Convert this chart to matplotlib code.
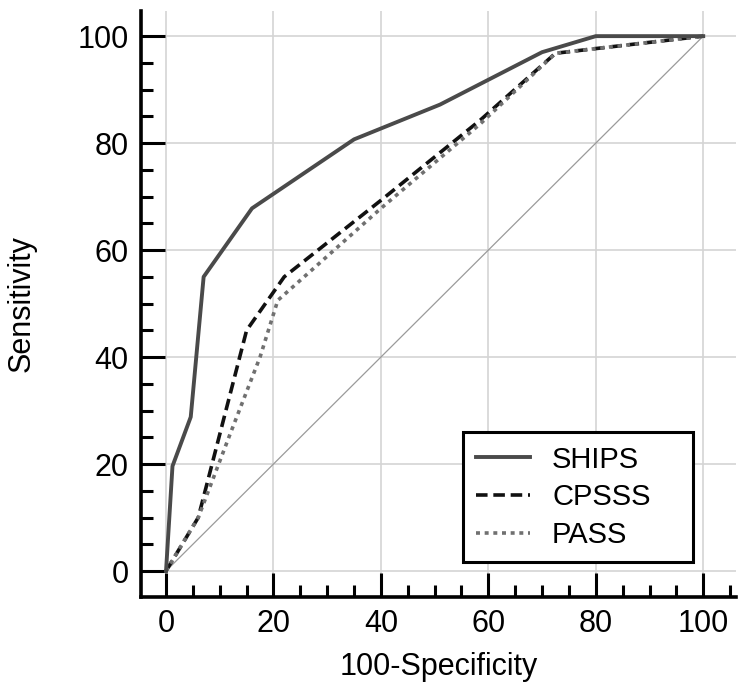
import matplotlib
matplotlib.use("Agg")
from matplotlib import pyplot as plt
from matplotlib.ticker import MultipleLocator

# ROC curves (x = 100-Specificity, y = Sensitivity)
ships_x = [0, 1.2, 4.6, 7, 16, 35, 51, 70, 80, 100]
ships_y = [0, 19.6, 28.8, 55, 67.8, 80.7, 87.2, 97, 100, 100]

cpsss_x = [0, 6, 15, 22, 40, 58.5, 72.5, 100]
cpsss_y = [0, 10, 45, 55, 69.3, 84.3, 96.8, 100]

pass_x = [0, 6, 12, 17.5, 20.8, 40, 58.5, 72.5, 100]
pass_y = [0, 10, 25.8, 40, 50.6, 67.8, 83.6, 96.8, 100]

ticks = [0, 20, 40, 60, 80, 100]

plt.rcParams["font.family"] = ["Liberation Sans", "DejaVu Sans"]

fig = plt.figure(figsize=(7.39, 6.86), dpi=100)
ax = fig.add_axes([141 / 739, 89 / 686, 595 / 739, 586 / 686])

ax.set_xlim(-4.66, 106.1)
ax.set_ylim(-4.86, 104.7)
ax.set_xticks(ticks)
ax.set_yticks(ticks)
ax.xaxis.set_minor_locator(MultipleLocator(5))
ax.yaxis.set_minor_locator(MultipleLocator(5))
ax.grid(True, which="major", color="#d4d4d4", lw=1.2)
ax.set_axisbelow(True)

for side in ("top", "right"):
    ax.spines[side].set_visible(False)
for side in ("left", "bottom"):
    ax.spines[side].set_linewidth(2.6)

ax.tick_params(which="major", direction="in", length=17, width=2.2,
               labelsize=22, pad=9)
ax.tick_params(which="minor", direction="in", length=8.5, width=2.2)

ax.plot([0, 100], [0, 100], color="#9a9a9a", lw=0.9, zorder=2)
ax.plot(ships_x, ships_y, color="#4a4a4a", lw=2.8, label="SHIPS", zorder=4)
ax.plot(cpsss_x, cpsss_y, color="#111111", lw=2.6, dashes=(3.2, 1.6),
        label="CPSSS", zorder=3)
ax.plot(pass_x, pass_y, color="#707070", lw=2.6, dashes=(1.1, 1.3),
        label="PASS", zorder=3)

ax.set_xlabel("100-Specificity", fontsize=22)
ax.set_ylabel("Sensitivity", fontsize=22)
ax.xaxis.set_label_coords(0.5, -0.094)
ax.yaxis.set_label_coords(-0.175, 0.5)

leg = ax.legend(loc="lower left", bbox_to_anchor=(55.3, 1.7, 42.8, 24.3),
                bbox_transform=ax.transData, mode="expand", fontsize=21,
                frameon=True, fancybox=False, framealpha=1, handlelength=1.85,
                handletextpad=0.75, labelspacing=0.33, borderpad=0.45,
                borderaxespad=0)
leg.get_frame().set_edgecolor("black")
leg.get_frame().set_linewidth(2.2)

fig.savefig("out.png", dpi=100)
